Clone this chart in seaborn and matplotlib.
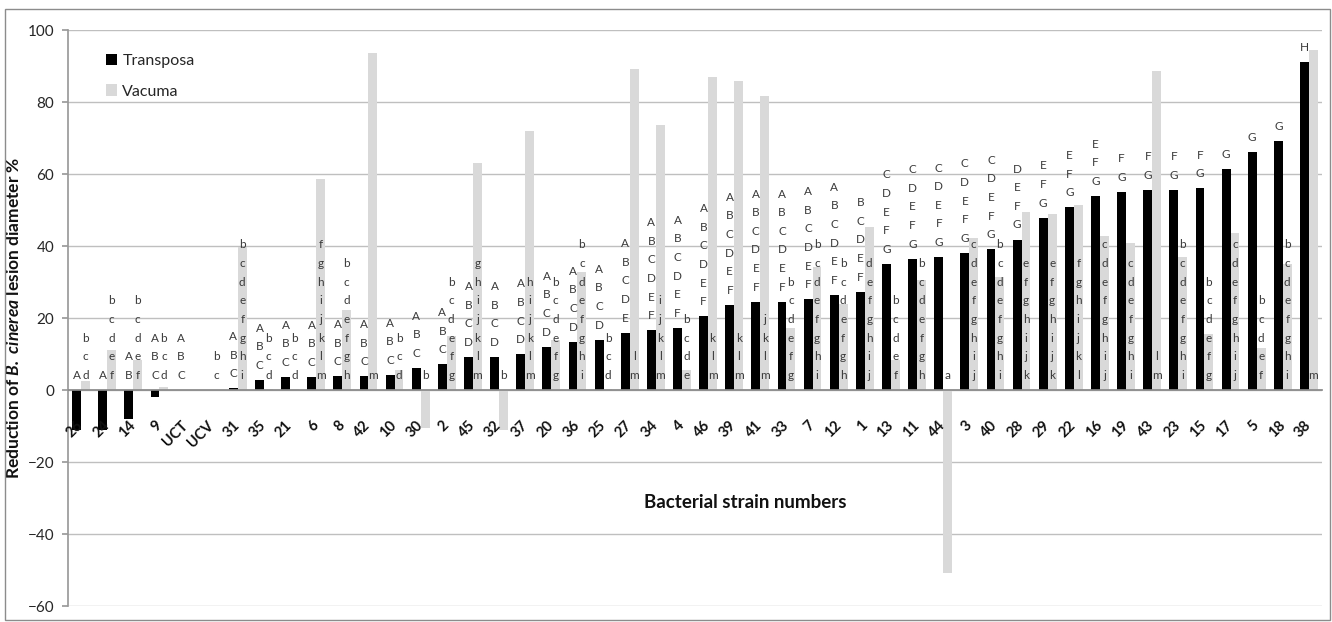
import numpy as np
import pandas as pd
import matplotlib
matplotlib.use("Agg")
import matplotlib.pyplot as plt
import seaborn as sns
from matplotlib.patches import Rectangle

strains = ["26", "24", "14", "9", "UCT", "UCV", "31", "35", "21", "6", "8", "42",
           "10", "30", "2", "45", "32", "37", "20", "36", "25", "27", "34", "4",
           "46", "39", "41", "33", "7", "12", "1", "13", "11", "44", "3", "40",
           "28", "29", "22", "16", "19", "43", "23", "15", "17", "5", "18", "38"]

transposa = [-11.1, -11.0, -8.1, -1.9, 0, 0, 0.5, 2.8, 3.6, 3.6, 3.8, 3.8,
             4.2, 6.1, 7.1, 9.2, 9.2, 9.9, 12.0, 13.4, 14.0, 15.9, 16.6, 17.2,
             20.5, 23.6, 24.5, 24.5, 25.2, 26.4, 27.3, 35.0, 36.5, 36.9, 38.1, 39.1,
             41.8, 47.9, 50.7, 53.9, 55.1, 55.6, 55.6, 56.0, 61.3, 66.2, 69.2, 91.0]

vacuma = [2.5, 11.1, 8.3, 0.9, 0, 0, 39.6, 0.2, 0.3, 58.5, 22.2, 93.5,
          5.5, -10.6, 15.0, 63.0, -11.1, 72.0, 13.9, 32.9, 0.3, 89.3, 73.6, 5.5,
          87.0, 85.9, 81.7, 17.1, 34.3, 24.0, 45.4, 8.2, 30.5, -50.8, 42.3, 31.5,
          49.5, 49.0, 51.4, 42.8, 40.9, 88.7, 37.0, 15.5, 43.5, 11.8, 34.9, 94.4]

upper_letters = ["A", "A", "AB", "ABC", "ABC", "", "ABC", "ABC", "ABC", "ABC", "ABC", "ABC",
                 "ABC", "ABC", "ABC", "ABCD", "ABCD", "ABCD", "ABCD", "ABCD", "ABCD", "ABCDE", "ABCDEF", "ABCDEF",
                 "ABCDEF", "ABCDEF", "ABCDEF", "ABCDEF", "ABCDEF", "ABCDEF", "BCDEF", "CDEFG", "CDEFG", "CDEFG", "CDEFG", "CDEFG",
                 "DEFG", "EFG", "EFG", "EFG", "FG", "FG", "FG", "FG", "G", "G", "G", "H"]

lower_letters = ["bcd", "bcdef", "bcdef", "bcd", "", "bc", "bcdefghi", "bcd", "bcd", "fghijklm", "bcdefgh", "m",
                 "bcd", "b", "bcdefg", "ghijklm", "b", "hijklm", "bcdefg", "bcdefghi", "bcd", "lm", "ijklm", "bcde",
                 "klm", "klm", "jklm", "bcdefg", "bcdefghi", "bcdefgh", "defghij", "bcdef", "bcdefgh", "a", "cdefghij", "bcdefghi",
                 "efghijk", "efghijk", "fghijkl", "cdefghij", "cdefghi", "lm", "bcdefghi", "bcdefg", "cdefghij", "bcdef", "bcdefghi", "m"]

series_names = ["Transposa", "Vacuma"]
yticks = [-60, -40, -20, 0, 20, 40, 60, 80, 100]

sns.set_theme(style="white")
plt.rcParams['font.family'] = ['Lato', 'DejaVu Sans']
plt.rcParams['mathtext.fontset'] = 'custom'
plt.rcParams['mathtext.rm'] = 'Lato:bold'
plt.rcParams['mathtext.bf'] = 'Lato:bold'
plt.rcParams['mathtext.it'] = 'Lato:italic:bold'
plt.rcParams['mathtext.bfit'] = 'Lato:italic:bold'

n = len(strains)
df = pd.DataFrame({
    "strain": strains * 2,
    "value": transposa + vacuma,
    "cultivar": [series_names[0]] * n + [series_names[1]] * n,
})

fig = plt.figure(figsize=(13.32, 6.22), dpi=100)
ax = fig.add_axes([68 / 1332, 1 - 606 / 622, 1254 / 1332, 576 / 622])

sns.barplot(data=df, x="strain", y="value", hue="cultivar", order=strains,
            hue_order=series_names, palette=["#000000", "#d9d9d9"], saturation=1,
            width=0.68, linewidth=0, errorbar=None, ax=ax)

ax.set_ylim(-60, 100)
ax.set_yticks(yticks)
ax.grid(False)
ax.set_axisbelow(False)
for yv in yticks:
    ax.axhline(yv, color="#bfbfbf", linewidth=1, zorder=0)

for s in ["top", "right"]:
    ax.spines[s].set_visible(False)
ax.spines["left"].set_color("#9a9a9a")
ax.spines["bottom"].set_position(("data", 0))
ax.spines["bottom"].set_color("#8a8a8a")

ax.set_xticks(np.arange(n))
ax.set_xticks(np.arange(-0.5, n, 1), minor=True)
ax.set_xticklabels(strains, rotation=45, ha="right", va="center",
                   rotation_mode="anchor", fontsize=10.5, fontweight="bold", color="#111111")
ax.tick_params(axis="x", which="major", length=0, pad=24)
ax.tick_params(axis="x", which="minor", length=5, direction="out", color="#8a8a8a", width=1)
ax.tick_params(axis="y", length=4, direction="out", color="#9a9a9a", pad=6,
               labelsize=11, labelcolor="#262626", left=True)

# letter stacks
for container, labels, is_upper in zip(ax.containers, [upper_letters, lower_letters], [True, False]):
    for bar, lab in zip(container, labels):
        if not lab:
            continue
        x = bar.get_x() + bar.get_width() / 2
        h = bar.get_height()
        base = max(h, 0) if is_upper else 0
        ax.annotate("\n".join(lab), (x, base), xytext=(0, 6.5), textcoords="offset points",
                    ha="center", va="bottom", fontsize=8.5, linespacing=1.85, color="#3a3a3a")

ax.set_xlabel("Bacterial strain numbers", fontsize=13.5, fontweight="bold", color="#111111")
ax.xaxis.set_label_coords(0.54, 0.179)
ax.xaxis.label.set_va("center")
ax.set_ylabel(r"Reduction of $\mathbfit{B.\ cinerea}$ lesion diameter %",
              fontsize=12.5, fontweight="bold", color="#111111")
ax.yaxis.set_label_coords(-0.037, 0.5)

handles, labels = ax.get_legend_handles_labels()
ax.legend(handles, labels, loc="upper left", bbox_to_anchor=(0.03, 0.958), frameon=False,
          fontsize=11.5, handlelength=0.7, handleheight=0.7, handletextpad=0.35,
          labelspacing=1.0, borderpad=0, borderaxespad=0)

fig.add_artist(Rectangle((5 / 1332, 2 / 622), 1325 / 1332, 611 / 622, transform=fig.transFigure,
                         fill=False, edgecolor="#8c8c8c", linewidth=1))

fig.savefig("out.png", dpi=100)
